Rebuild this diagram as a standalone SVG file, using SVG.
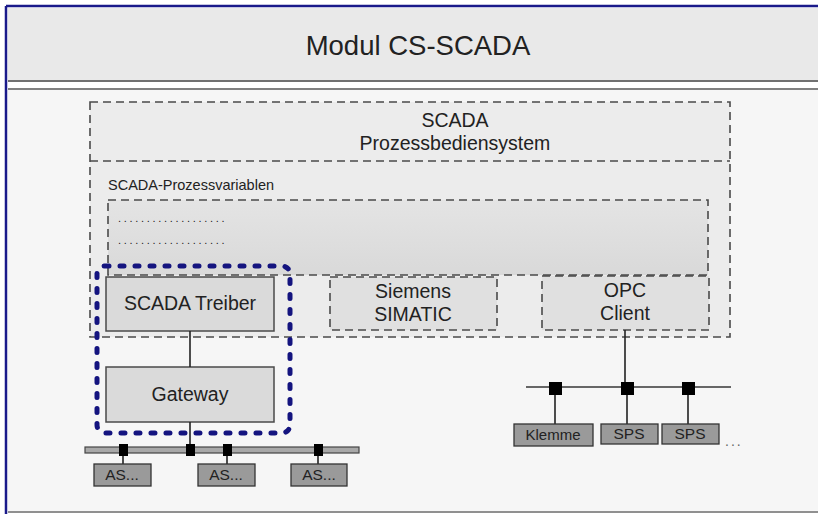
<svg xmlns="http://www.w3.org/2000/svg" width="818" height="514" viewBox="0 0 818 514">
<defs>
<linearGradient id="gv" x1="0" y1="0" x2="0" y2="1">
<stop offset="0" stop-color="#e4e4e4"/><stop offset="1" stop-color="#d9d9d9"/>
</linearGradient>
<style>
text{font-family:"Liberation Sans",Arial,sans-serif;fill:#222;text-anchor:middle}
.dash{fill:none;stroke:#4a4a4a;stroke-width:1.6;stroke-dasharray:8,5}
.solid{fill:#dadada;stroke:#4a4a4a;stroke-width:1.5}
.dev{fill:#9a9a9a;stroke:#333;stroke-width:1.3}
.node{fill:#000}
.wire{stroke:#222;stroke-width:1.6;fill:none}
.lbl{font-size:19.5px}
.dl{font-size:15.5px}
</style>
</defs>
<rect x="0" y="0" width="818" height="514" fill="#ffffff"/>
<g id="frame">
<rect x="8" y="8" width="812" height="74" fill="#e9e9e9"/>
<line x1="8" y1="81" x2="818" y2="81" stroke="#707070" stroke-width="2"/>
<rect x="8" y="89" width="812" height="423" fill="#f6f6f6"/>
<line x1="8" y1="89" x2="818" y2="89" stroke="#808080" stroke-width="2"/>
<line x1="8" y1="512" x2="818" y2="512" stroke="#909090" stroke-width="2"/>
<line x1="6" y1="6" x2="818" y2="6" stroke="#1a1a8a" stroke-width="2.5"/>
<line x1="6" y1="6" x2="6" y2="514" stroke="#1a1a8a" stroke-width="2.5"/>
<text x="418" y="55" style="font-size:27.5px">Modul CS-SCADA</text>
</g>
<g id="scada-system">
<rect x="90" y="102" width="640" height="235" fill="#ececec"/>
<rect x="90" y="102" width="640" height="235" class="dash"/>
<line x1="90" y1="161" x2="730" y2="161" class="dash"/>
<text x="455" y="127" style="font-size:19.5px">SCADA</text>
<text x="455" y="150" style="font-size:19.5px">Prozessbediensystem</text>
</g>
<g id="prozessvariablen">
<text x="108" y="190" style="font-size:14.5px;text-anchor:start">SCADA-Prozessvariablen</text>
<rect x="108" y="200" width="600" height="75" fill="url(#gv)"/>
<rect x="108" y="200" width="600" height="75" class="dash"/>
<text x="118" y="222" style="font-size:11px;text-anchor:start;letter-spacing:2.7px">...................</text>
<text x="118" y="244" style="font-size:11px;text-anchor:start;letter-spacing:2.7px">...................</text>
</g>
<g id="scada-treiber">
<rect x="106" y="277" width="168" height="54" class="solid"/>
<text x="190" y="310" class="lbl">SCADA Treiber</text>
</g>
<g id="siemens-simatic">
<rect x="330" y="277" width="167" height="53" fill="#e0e0e0"/>
<rect x="330" y="277" width="167" height="53" class="dash"/>
<text x="413" y="298" class="lbl">Siemens</text>
<text x="413" y="321" class="lbl">SIMATIC</text>
</g>
<g id="opc-client">
<rect x="542" y="276" width="167" height="54" fill="#e0e0e0"/>
<rect x="542" y="276" width="167" height="54" class="dash"/>
<text x="625" y="297" class="lbl">OPC</text>
<text x="625" y="320" class="lbl">Client</text>
</g>
<g id="gateway">
<rect x="106" y="367" width="168" height="55" class="solid"/>
<text x="190" y="401" class="lbl">Gateway</text>
</g>
<g id="gateway-group">
<rect x="97" y="266" width="193" height="167" rx="8" fill="none" stroke="#14147f" stroke-width="5" stroke-linecap="round" stroke-dasharray="4,11"/>
</g>
<g id="connectors">
<line x1="190" y1="331" x2="190" y2="367" class="wire"/>
<line x1="190" y1="422" x2="190" y2="450" class="wire"/>
<rect x="85" y="447" width="274" height="6" fill="#a8a8a8" stroke="#444" stroke-width="1.2"/>
<line x1="123" y1="450" x2="123" y2="464" class="wire"/>
<line x1="227" y1="450" x2="227" y2="464" class="wire"/>
<line x1="318" y1="450" x2="318" y2="464" class="wire"/>
<rect x="119" y="444" width="9" height="12" class="node"/>
<rect x="186" y="444" width="9" height="12" class="node"/>
<rect x="223" y="444" width="9" height="12" class="node"/>
<rect x="314" y="444" width="9" height="12" class="node"/>
<line x1="625" y1="330" x2="625" y2="388" class="wire"/>
<line x1="526" y1="387" x2="731" y2="387" stroke="#666" stroke-width="2"/>
<line x1="555" y1="388" x2="555" y2="424" class="wire"/>
<line x1="627" y1="388" x2="627" y2="424" class="wire"/>
<line x1="688" y1="388" x2="688" y2="424" class="wire"/>
<rect x="549" y="382" width="13" height="13" class="node"/>
<rect x="621" y="382" width="13" height="13" class="node"/>
<rect x="682" y="382" width="13" height="13" class="node"/>
</g>
<g id="as1"><rect x="94" y="464" width="57" height="22" class="dev"/><text x="122" y="480" class="dl">AS...</text></g>
<g id="as2"><rect x="198" y="464" width="57" height="22" class="dev"/><text x="226" y="480" class="dl">AS...</text></g>
<g id="as3"><rect x="291" y="464" width="56" height="22" class="dev"/><text x="319" y="480" class="dl">AS...</text></g>
<g id="klemme"><rect x="514" y="424" width="79" height="22" class="dev"/><text x="553" y="440" style="font-size:15px">Klemme</text></g>
<g id="sps1"><rect x="601" y="424" width="57" height="20" class="dev"/><text x="629" y="439" class="dl">SPS</text></g>
<g id="sps2"><rect x="662" y="424" width="57" height="20" class="dev"/><text x="690" y="439" class="dl">SPS</text></g>
<text x="725" y="446" style="font-size:14px;text-anchor:start;fill:#666;letter-spacing:2px">...</text>
</svg>
